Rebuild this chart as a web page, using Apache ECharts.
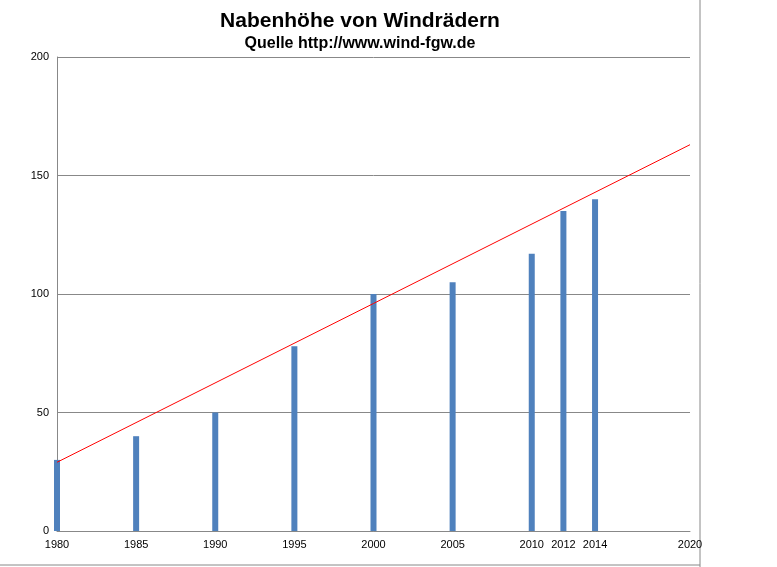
<!DOCTYPE html>
<html>
<head>
<meta charset="utf-8">
<script src="https://cdn.jsdelivr.net/npm/echarts@6/dist/echarts.min.js"></script>
<style>html,body{margin:0;background:#fff}#c{width:777px;height:567px}</style>
</head>
<body>
<div id="c"></div>
<script>
// Nabenhöhe (m) je Jahr
var years = ['1980', '1985', '1990', '1995', '2000', '2005', '2010', '2012', '2014']
var heights = [30, 40, 50, 78, 100, 105, 117, 135, 140]
var tickLabels = ['1980', '1985', '1990', '1995', '2000', '2005', '2010', '2012', '2014', '2020']
var trendYears = ['1980', '2020']
var trendValues = [29, 163]

var cats = []
for (var y = 1980; y <= 2020; y++) cats.push(String(y))

var barData = cats.map(function (c) {
  var i = years.indexOf(c)
  return i < 0 ? null : heights[i]
})
var trendData = trendYears.map(function (c, i) { return [c, trendValues[i]] })

var chart = echarts.init(document.getElementById('c'))
chart.setOption({
  animation: false,
  title: {
    text: 'Nabenhöhe von Windrädern',
    subtext: 'Quelle http://www.wind-fgw.de',
    left: 355, top: 6, textAlign: 'center', itemGap: 4,
    textStyle: { fontFamily: 'Liberation Sans', fontWeight: 'bold', fontSize: 21, color: '#000' },
    subtextStyle: { fontFamily: 'Liberation Sans', fontWeight: 'bold', fontSize: 16, color: '#000' }
  },
  grid: { left: 57, right: 87, top: 57, bottom: 36 },
  xAxis: {
    type: 'category', data: cats, boundaryGap: false,
    axisLine: { lineStyle: { color: '#888' } },
    axisTick: { show: false },
    axisLabel: {
      interval: function (i, v) { return tickLabels.indexOf(v) >= 0 },
      color: '#000', fontSize: 11, fontFamily: 'Liberation Sans'
    }
  },
  yAxis: {
    type: 'value', min: 0, max: 200, interval: 50,
    axisLine: { show: true, lineStyle: { color: '#888' } },
    axisLabel: { color: '#000', fontSize: 11, fontFamily: 'Liberation Sans' },
    splitLine: { lineStyle: { color: '#888' } }
  },
  series: [
    { type: 'bar', data: barData, barWidth: 6, itemStyle: { color: '#4f81bd' } },
    { type: 'line', data: trendData, symbol: 'none', lineStyle: { color: '#ff0000', width: 1 } }
  ],
  graphic: [
    { type: 'line', shape: { x1: 700, y1: 0, x2: 700, y2: 567 }, style: { stroke: '#888', lineWidth: 1 } },
    { type: 'line', shape: { x1: 0, y1: 565, x2: 700, y2: 565 }, style: { stroke: '#888', lineWidth: 1 } }
  ]
})
</script>
</body>
</html>
